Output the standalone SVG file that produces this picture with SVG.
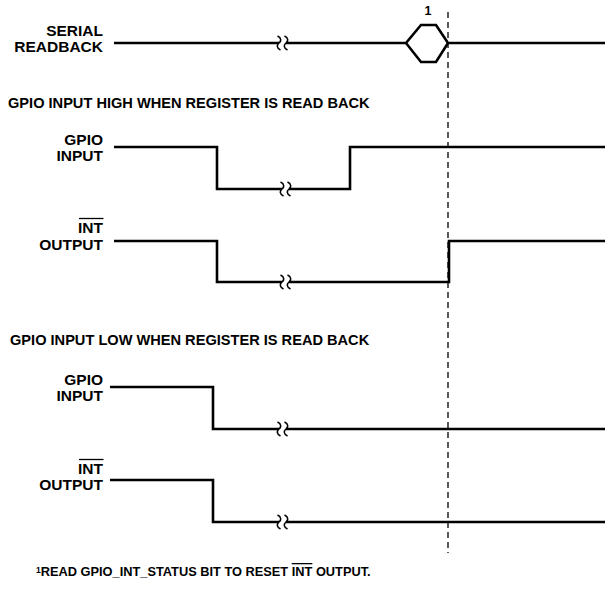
<svg xmlns="http://www.w3.org/2000/svg" width="605" height="590" viewBox="0 0 605 590">
<style>
text{font-family:"Liberation Sans",Arial,Helvetica,sans-serif;font-weight:bold;fill:#000}
.lbl{font-size:15.5px;text-anchor:end}
.hd{font-size:14.6px}
.fn{font-size:12.8px}
.sig{fill:none;stroke:#000;stroke-width:2.6;stroke-linejoin:miter;stroke-linecap:butt}
.brk{fill:none;stroke:#000;stroke-width:1.6}
.ov{stroke:#000;stroke-width:1.3}
.dash{stroke:#000;stroke-width:1.3;stroke-dasharray:6 4;fill:none}
</style>
<defs>
<path id="sq" class="brk" d="M -1.5 -7 C 2.5 -5 2.5 -2 0 0 C -2.5 2 -2.5 5 1.5 7"/>
</defs>
<rect width="605" height="590" fill="#fff"/>

<g id="connectors">
<line class="dash" x1="448" y1="12" x2="448" y2="553"/>
</g>

<g id="serial-readback">
<text class="lbl" x="103" y="36">SERIAL</text>
<text class="lbl" x="103" y="52">READBACK</text>
<path class="sig" d="M114 43 H279"/>
<use href="#sq" x="279" y="43"/><use href="#sq" x="286" y="43"/>
<path class="sig" d="M286 43 H406 L421 25 H436 L448 43 L436 62 H421 L406 43 M448 43 H605"/>
<text x="428" y="15" style="font-size:12.5px" text-anchor="middle">1</text>
</g>

<g id="heading-high">
<text class="hd" x="8" y="108">GPIO INPUT HIGH WHEN REGISTER IS READ BACK</text>
</g>

<g id="gpio-input-high">
<text class="lbl" x="103" y="145">GPIO</text>
<text class="lbl" x="103" y="161">INPUT</text>
<path class="sig" d="M114 147 H217 V189 H282"/>
<use href="#sq" x="282" y="189"/><use href="#sq" x="289" y="189"/>
<path class="sig" d="M289 189 H350 V147 H605"/>
</g>

<g id="int-output-high">
<text class="lbl" x="103" y="233">INT</text>
<line class="ov" x1="79" y1="218.5" x2="103.5" y2="218.5"/>
<text class="lbl" x="103" y="250">OUTPUT</text>
<path class="sig" d="M114 241 H217 V282 H282"/>
<use href="#sq" x="282" y="282"/><use href="#sq" x="289" y="282"/>
<path class="sig" d="M289 282 H449 V241 H605"/>
</g>

<g id="heading-low">
<text class="hd" x="10" y="345">GPIO INPUT LOW WHEN REGISTER IS READ BACK</text>
</g>

<g id="gpio-input-low">
<text class="lbl" x="103" y="385">GPIO</text>
<text class="lbl" x="103" y="401">INPUT</text>
<path class="sig" d="M110 387 H213 V429 H279"/>
<use href="#sq" x="279" y="429"/><use href="#sq" x="286" y="429"/>
<path class="sig" d="M286 429 H605"/>
</g>

<g id="int-output-low">
<text class="lbl" x="103" y="474">INT</text>
<line class="ov" x1="79" y1="459.5" x2="103.5" y2="459.5"/>
<text class="lbl" x="103" y="490">OUTPUT</text>
<path class="sig" d="M110 480 H213 V522 H279"/>
<use href="#sq" x="279" y="522"/><use href="#sq" x="286" y="522"/>
<path class="sig" d="M286 522 H605"/>
</g>

<g id="footnote">
<text class="fn" x="36" y="576"><tspan style="font-size:8.5px" dy="-3.5">1</tspan><tspan dy="3.5">READ GPIO_INT_STATUS BIT TO RESET </tspan><tspan text-decoration="overline">INT</tspan><tspan> OUTPUT.</tspan></text>
</g>
</svg>
